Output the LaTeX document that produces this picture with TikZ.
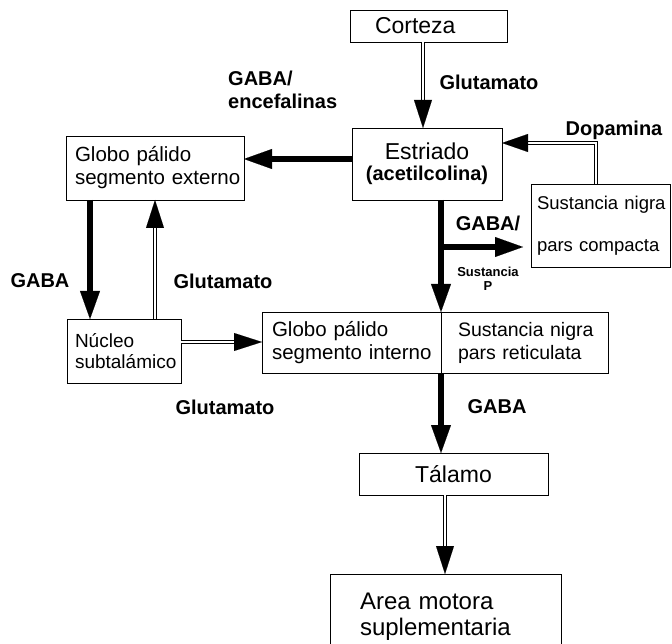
\documentclass[tikz,border=0pt]{standalone}
\usepackage{fontspec}
\setmainfont{Liberation Sans}
\usetikzlibrary{arrows.meta,calc}
\begin{document}
\begin{tikzpicture}[x=1pt,y=-1pt,
  box/.style={draw,line width=0.9pt,inner ysep=0pt,outer sep=0pt},
  lab/.style={font=\fontsize{20}{23}\selectfont\bfseries,inner sep=0pt},
  thickarrow/.style={line width=6.5pt,-{Triangle[width=20pt,length=28pt,line width=0.1pt]}},
  thinarrow/.style={double,line width=0.9pt,double distance=2.2pt,-{Triangle[width=18pt,length=28pt,line width=0.1pt]}},
  doparrow/.style={double,line width=1.5pt,double distance=1.6pt,-{Triangle[width=18pt,length=26pt,line width=0.1pt]}},
]
\useasboundingbox (0,0) rectangle (672,644);

% boxes
\node[box,text width=107pt,inner xsep=25pt,align=left,minimum height=32pt,font=\fontsize{23}{26}\selectfont] (cortex) at (428.5,26) {\mbox{Corteza}};
\node[box,minimum width=150pt,minimum height=72pt,align=center,inner xsep=0pt] (striatum) at (427,164)
  {{\fontsize{23}{26}\selectfont Estriado}\\[5pt]{\fontsize{20}{23}\selectfont\bfseries (acetilcolina)}};
\node[box,text width=160pt,inner xsep=9pt,align=left,minimum height=64pt,font=\fontsize{20.5}{23}\selectfont] (gpe) at (155,168) {\mbox{Globo pálido}\\\mbox{segmento externo}};
\node[box,text width=127pt,inner xsep=6pt,align=left,minimum height=83pt,font=\fontsize{18.5}{42}\selectfont] (snc) at (600.5,225.5) {\mbox{Sustancia nigra}\\\mbox{pars compacta}};
\node[box,text width=98pt,inner xsep=8pt,align=left,minimum height=64pt,font=\fontsize{19}{20.5}\selectfont] (stn) at (124,351) {\mbox{Núcleo}\\\mbox{subtalámico}};
\node[box,text width=159pt,inner xsep=10pt,align=left,minimum height=61pt,font=\fontsize{20.5}{23}\selectfont] (gpi) at (351.5,342.5) {\mbox{Globo pálido}\\\mbox{segmento interno}};
\node[box,text width=133pt,inner xsep=17pt,align=left,minimum height=61pt,font=\fontsize{19.5}{23}\selectfont] (snr) at (524.5,342.5) {\mbox{Sustancia nigra}\\\mbox{pars reticulata}};
\node[box,minimum width=189pt,minimum height=42pt,font=\fontsize{23}{26}\selectfont] (thal) at (453.5,474) {Tálamo};
\node[box,text width=171pt,inner xsep=30pt,align=left,minimum height=86pt,font=\fontsize{24}{26}\selectfont] (sma) at (445.5,617) {\mbox{Area motora}\\\mbox{suplementaria}};

% labels
\node[lab] (l1) at (489,82) {Glutamato};
\node[lab,align=left,anchor=west] (l2) at (228,90) {GABA/\\encefalinas};
\node[lab] (l3) at (614,130) {Dopamina};
\node[lab] (l4) at (488,223) {GABA/};
\node[font=\fontsize{13}{14}\selectfont\bfseries,inner sep=0pt,align=center] (l5) at (488,279) {Sustancia\\P};
\node[lab] (l6) at (40,281) {GABA};
\node[lab] (l7) at (223,281) {Glutamato};
\node[lab] (l8) at (225,407) {Glutamato};
\node[lab] (l9) at (497,407) {GABA};

% connectors
\coordinate (c1) at ([xshift=-5.5pt]cortex.south);
\draw[thinarrow] (c1) -- (c1 |- striatum.north);

\coordinate (s1) at ([yshift=5pt]striatum.west);
\draw[thickarrow] (s1) -- (s1 -| gpe.east);

\coordinate (t0) at (gpi.north east |- striatum.south);
\draw[thickarrow] (t0) -- (gpi.north east);
\coordinate (br) at (441,247);
\draw[thickarrow,shorten >=8pt] ([xshift=-3pt]br) -- (br -| snc.west);

\coordinate (d0) at ([xshift=-4.5pt]snc.north);
\coordinate (d2) at ([yshift=21pt]striatum.east);
\draw[doparrow] (d0) |- (d2);

\coordinate (g1) at ([xshift=24pt]gpe.south west);
\draw[thickarrow] (g1) -- (g1 |- stn.north);

\coordinate (u1) at ([xshift=88pt]stn.north west);
\draw[thinarrow] (u1) -- (u1 |- gpe.south);

\coordinate (h1) at ([yshift=9pt]stn.east);
\draw[thinarrow] (h1) -- (h1 -| gpi.west);

\draw[thickarrow] (gpi.south east) -- (gpi.south east |- thal.north);

\coordinate (v1) at ([xshift=-8.5pt]thal.south);
\draw[thinarrow] (v1) -- (v1 |- sma.north);
\end{tikzpicture}
\end{document}
